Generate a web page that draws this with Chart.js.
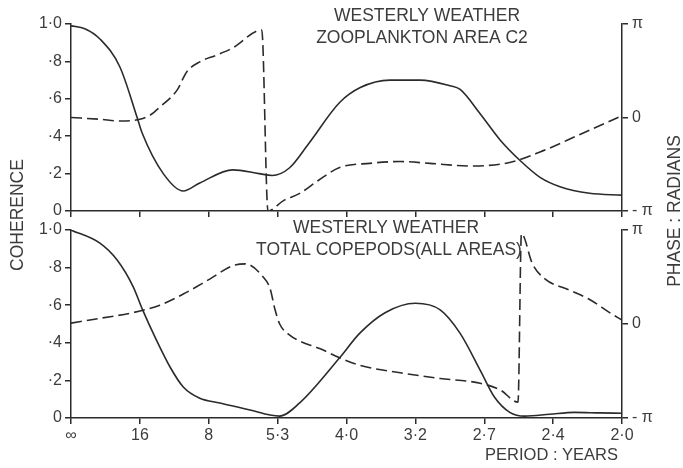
<!DOCTYPE html>
<html>
<head>
<meta charset="utf-8">
<script src="https://cdn.jsdelivr.net/npm/chart.js@4.4.1/dist/chart.umd.min.js"></script>
<style>
  html, body { margin: 0; padding: 0; background: #fff; }
  #wrap { position: relative; width: 683px; height: 468px; }
  #wrap canvas { position: absolute; left: 0; top: 0; }
</style>
</head>
<body>
<div id="wrap">
  <canvas id="bottomChart" width="683" height="468"></canvas>
  <canvas id="topChart" width="683" height="468"></canvas>
</div>
<script>
// x is frequency in steps of 1/16 cycle per year, labelled as period
const periodLabels = ['∞', '16', '8', '5·3', '4·0', '3·2', '2·7', '2·4', '2·0'];

// top panel: westerly weather vs zooplankton area C2
const topCohX = [0, 0.2, 0.42, 0.71, 0.96, 1.03, 1.34, 1.63, 1.87, 2.35, 2.73, 2.92, 3.17, 3.45, 3.9, 4.2, 4.63, 5.07, 5.5, 5.65, 5.94, 6.23, 6.52, 6.81, 7.1, 7.53, 8];
const topCohY = [0.99, 0.975, 0.92, 0.77, 0.50, 0.42, 0.20, 0.107, 0.15, 0.22, 0.20, 0.19, 0.23, 0.36, 0.58, 0.66, 0.70, 0.70, 0.67, 0.65, 0.52, 0.38, 0.27, 0.18, 0.13, 0.095, 0.085];
const topPhaseX = [0, 0.42, 0.71, 1.0, 1.15, 1.29, 1.54, 1.68, 1.87, 2.12, 2.35, 2.77, 2.86, 3.08, 3.32, 3.6, 3.9, 4.34, 4.78, 5.21, 5.79, 6.37, 6.81, 7.39, 8];
const topPhaseY = [0, -0.06, -0.12, -0.06, 0.08, 0.35, 0.92, 1.53, 1.87, 2.10, 2.34, 2.94, -3.14, -2.8, -2.55, -2.1, -1.68, -1.54, -1.48, -1.54, -1.63, -1.51, -1.16, -0.57, 0.06];

// bottom panel: westerly weather vs total copepods (all areas)
const botCohX = [0, 0.42, 0.67, 0.9, 1.04, 1.22, 1.44, 1.63, 1.87, 2.16, 2.6, 2.89, 3.03, 3.32, 3.9, 4.19, 4.56, 5.0, 5.36, 5.65, 5.94, 6.15, 6.37, 6.59, 6.95, 7.31, 7.68, 8];
const botCohY = [1.0, 0.93, 0.84, 0.70, 0.575, 0.43, 0.27, 0.165, 0.105, 0.08, 0.043, 0.016, 0.01, 0.08, 0.32, 0.45, 0.56, 0.61, 0.575, 0.45, 0.255, 0.11, 0.03, 0.01, 0.02, 0.03, 0.027, 0.025];
const botPhaseX = [0, 0.42, 0.9, 1.29, 1.63, 2.02, 2.35, 2.53, 2.79, 2.89, 2.96, 3.03, 3.18, 3.32, 3.61, 3.9, 4.19, 4.78, 5.36, 5.94, 6.23, 6.49, 6.54, 6.7, 6.88, 7.24, 7.53, 7.82, 8];
const botPhaseY = [0.03, 0.19, 0.38, 0.63, 1.0, 1.51, 1.95, 2.01, 1.57, 1.19, 0.5, 0, -0.38, -0.57, -0.82, -1.13, -1.38, -1.63, -1.82, -1.98, -2.2, -2.61, 3.02, 2.01, 1.51, 1.13, 0.82, 0.38, 0.13];

const ink = '#2b2b2b';
const textInk = '#3c3c3c';
const family = '"Liberation Sans", Arial, sans-serif';

function zip(xs, ys) {
    return xs.map((x, i) => ({ x: x, y: ys[i] }));
}

function cohLabel(v) {
    if (v === 0) return '0';
    if (v === 1) return '1·0';
    return '·' + Math.round(v * 10);
}

function phaseLabel(v) {
    if (v > 1) return 'π';
    if (v < -1) return '- π';
    return '0';
}

const freeText = {
    id: 'freeText',
    afterDraw(chart, args, opts) {
        const ctx = chart.ctx;
        ctx.save();
        ctx.fillStyle = textInk;
        ctx.textBaseline = 'middle';
        (opts.items || []).forEach(t => {
            ctx.font = t.size + 'px ' + family;
            ctx.textAlign = t.align || 'center';
            ctx.save();
            ctx.translate(t.x, t.y);
            if (t.rotate) ctx.rotate(t.rotate);
            ctx.fillText(t.text, 0, 0);
            ctx.restore();
        });
        ctx.restore();
    }
};

function makeChart(id, cohX, cohY, phX, phY, isBottom, texts) {
    const axisGrid = {
        display: true,
        drawOnChartArea: false,
        drawTicks: true,
        tickLength: 6,
        color: ink,
        lineWidth: 1.5
    };
    const axisBorder = { display: true, color: ink, width: 1.5 };
    return new Chart(document.getElementById(id), {
        type: 'line',
        data: {
            datasets: [
                {
                    label: 'Coherence',
                    data: zip(cohX, cohY),
                    borderColor: ink,
                    borderWidth: 1.6,
                    pointRadius: 0,
                    tension: 0.4,
                    cubicInterpolationMode: 'monotone',
                    yAxisID: 'y'
                },
                {
                    label: 'Phase',
                    data: zip(phX, phY),
                    borderColor: ink,
                    borderWidth: 1.6,
                    borderDash: [11, 5],
                    pointRadius: 0,
                    tension: 0.4,
                    cubicInterpolationMode: 'monotone',
                    yAxisID: 'y1'
                }
            ]
        },
        options: {
            responsive: false,
            animation: false,
            devicePixelRatio: 1,
            layout: {
                padding: isBottom ? { top: 230, bottom: 0, left: 0, right: 0 } : { top: 24, bottom: 251, left: 0, right: 0 }
            },
            plugins: {
                legend: { display: false },
                tooltip: { enabled: false },
                freeText: { items: texts }
            },
            scales: {
                x: {
                    type: 'linear',
                    min: 0,
                    max: 8,
                    afterBuildTicks: s => { s.ticks = periodLabels.map((l, i) => ({ value: i })); },
                    afterFit: s => { s.height = isBottom ? 50 : 6; },
                    grid: axisGrid,
                    border: axisBorder,
                    ticks: {
                        display: isBottom,
                        autoSkip: false,
                        maxRotation: 0,
                        padding: 2,
                        color: textInk,
                        font: { family: family, size: 16 },
                        callback: v => periodLabels[v]
                    }
                },
                y: {
                    position: 'left',
                    min: 0,
                    max: 1,
                    afterBuildTicks: s => { s.ticks = [0, 0.2, 0.4, 0.6, 0.8, 1].map(v => ({ value: v })); },
                    afterFit: s => { s.width = 71; },
                    grid: axisGrid,
                    border: axisBorder,
                    ticks: {
                        padding: 3,
                        color: textInk,
                        font: { family: family, size: 16 },
                        callback: cohLabel
                    }
                },
                y1: {
                    position: 'right',
                    min: -Math.PI,
                    max: Math.PI,
                    afterBuildTicks: s => { s.ticks = [-Math.PI, 0, Math.PI].map(v => ({ value: v })); },
                    afterFit: s => { s.width = 61; },
                    grid: axisGrid,
                    border: axisBorder,
                    ticks: {
                        padding: 4,
                        color: textInk,
                        font: { family: family, size: 16 },
                        callback: phaseLabel
                    }
                }
            }
        },
        plugins: [freeText]
    });
}

makeChart('topChart', topCohX, topCohY, topPhaseX, topPhaseY, false, [
    { text: 'WESTERLY WEATHER', x: 427, y: 16, size: 17.5 },
    { text: 'ZOOPLANKTON AREA C2', x: 422, y: 38, size: 17.5 }
]);

makeChart('bottomChart', botCohX, botCohY, botPhaseX, botPhaseY, true, [
    { text: 'WESTERLY WEATHER', x: 386, y: 228, size: 17.5 },
    { text: 'TOTAL COPEPODS(ALL AREAS)', x: 389, y: 250, size: 17.5 },
    { text: 'COHERENCE', x: 18, y: 215, size: 17.5, rotate: -Math.PI / 2 },
    { text: 'PHASE : RADIANS', x: 675, y: 211, size: 17.5, rotate: -Math.PI / 2 },
    { text: 'PERIOD : YEARS', x: 618, y: 455, size: 16.5, align: 'right' }
]);
</script>
</body>
</html>
